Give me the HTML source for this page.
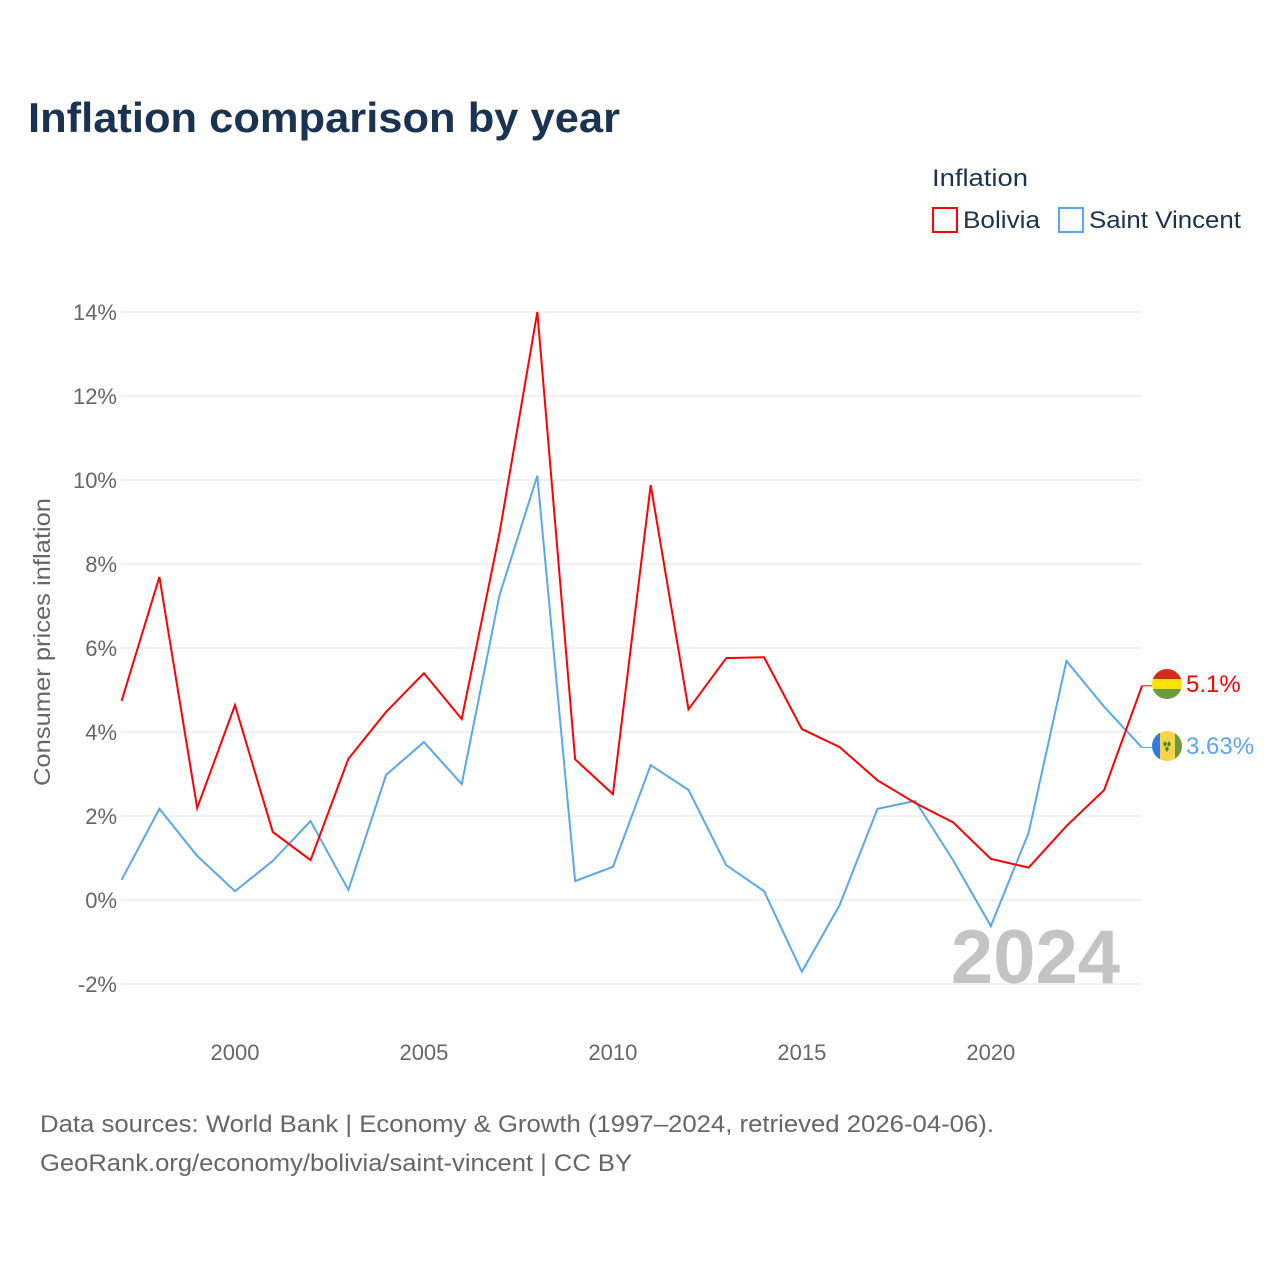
<!DOCTYPE html>
<html><head><meta charset="utf-8"><style>
html,body{margin:0;padding:0;background:#fff;}
svg{display:block;font-family:"Liberation Sans",sans-serif;}
</style></head><body>
<svg width="1280" height="1280" viewBox="0 0 1280 1280">
<text x="28" y="132" font-size="42" font-weight="bold" fill="#1b3350" textLength="592" lengthAdjust="spacingAndGlyphs">Inflation comparison by year</text>
<text x="932" y="186" font-size="24" fill="#1b3350" textLength="96" lengthAdjust="spacingAndGlyphs">Inflation</text>
<g>
<rect x="933" y="208" width="24" height="24" fill="none" stroke="#ff0000" stroke-width="2"/>
<text x="963" y="228" font-size="24" fill="#1b3350" textLength="77" lengthAdjust="spacingAndGlyphs">Bolivia</text></g>
<g>
<rect x="1059" y="208" width="24" height="24" fill="none" stroke="#5aa7ee" stroke-width="2"/>
<text x="1089" y="228" font-size="24" fill="#1b3350" textLength="152" lengthAdjust="spacingAndGlyphs">Saint Vincent</text></g>
<g id="grid"></g><g id="yticks"></g><g id="xticks"></g>
<text x="1120" y="983" font-size="76" font-weight="bold" fill="#c4c4c4" text-anchor="end">2024</text>
<text transform="translate(50,642) rotate(-90)" font-size="23" fill="#666" text-anchor="middle" textLength="288" lengthAdjust="spacingAndGlyphs">Consumer prices inflation</text>
<g id="series"></g>
<g>
<clipPath id="c1"><circle cx="1167" cy="684" r="15"/></clipPath>
<g clip-path="url(#c1)"><rect x="1150" y="669" width="34" height="10" fill="#d52b1e"/><rect x="1150" y="679" width="34" height="10" fill="#f9e300"/><rect x="1150" y="689" width="34" height="11" fill="#6a9a3a"/></g></g>
<g>
<clipPath id="c2"><circle cx="1167" cy="746" r="15"/></clipPath>
<g clip-path="url(#c2)"><rect x="1150" y="730" width="10" height="32" fill="#2f7de1"/><rect x="1160" y="730" width="15" height="32" fill="#fcd44a"/><rect x="1175" y="730" width="10" height="32" fill="#6a9a3a"/>
<path d="M1163 744l2-3 2 3-2 3zM1167 744l2-3 2 3-2 3zM1165 749l2-3 2 3-2 3z" fill="#3a8a2a"/></g></g>
<text x="1186" y="692" font-size="24" fill="#ff0000">5.1%</text>
<text x="1186" y="754" font-size="24" fill="#5aa7ee">3.63%</text>
<text x="40" y="1132" font-size="24" fill="#666" textLength="954" lengthAdjust="spacingAndGlyphs">Data sources: World Bank | Economy &amp; Growth (1997–2024, retrieved 2026-04-06).</text>
<text x="40" y="1171" font-size="24" fill="#666" textLength="592" lengthAdjust="spacingAndGlyphs">GeoRank.org/economy/bolivia/saint-vincent | CC BY</text>
</svg>
<script>
const years=[1997,1998,1999,2000,2001,2002,2003,2004,2005,2006,2007,2008,2009,2010,2011,2012,2013,2014,2015,2016,2017,2018,2019,2020,2021,2022,2023,2024];
const bolivia=[4.74,7.69,2.19,4.64,1.62,0.95,3.36,4.48,5.40,4.31,8.74,14.0,3.35,2.52,9.88,4.54,5.76,5.78,4.07,3.64,2.85,2.31,1.85,0.98,0.77,1.76,2.62,5.1];
const saintVincent=[0.48,2.17,1.05,0.21,0.93,1.88,0.24,2.98,3.76,2.76,7.26,10.1,0.45,0.79,3.21,2.62,0.83,0.21,-1.71,-0.12,2.17,2.36,0.95,-0.62,1.6,5.69,4.6,3.63];
const yTicks=[-2,0,2,4,6,8,10,12,14];
const xTicks=[2000,2005,2010,2015,2020];
const NS="http://www.w3.org/2000/svg";
const X=y=>121.6+(y-1997)*(1142-121.6)/27;
const Y=v=>900-v*42;
function mk(tag,attrs,parent){const e=document.createElementNS(NS,tag);for(const k in attrs)e.setAttribute(k,attrs[k]);document.getElementById(parent).appendChild(e);return e;}
yTicks.forEach(v=>{
 const l=mk('line',{x1:121,x2:1142,y1:Y(v),y2:Y(v),stroke:'#e6e6e6','stroke-width':1},'grid');
 
 
 const t=mk('text',{x:117,y:Y(v)+8,'font-size':22,fill:'#666','text-anchor':'end'},'yticks');
 t.textContent=v+'%';
 
 
});
xTicks.forEach(v=>{
 const t=mk('text',{x:X(v),y:1060,'font-size':22,fill:'#666','text-anchor':'middle'},'xticks');
 t.textContent=v;
 
 
});
function line(vals,color,name){
 const p=mk('polyline',{points:vals.map((v,i)=>X(years[i])+','+Y(v)).join(' '),fill:'none',stroke:color,'stroke-width':2,'stroke-linejoin':'miter'},'series');
 
 
}
line(saintVincent,'#5aa7ee','saint-vincent-line');
line(bolivia,'#ff0000','bolivia-line');
const c1=mk('line',{x1:X(2024),x2:1152,y1:Y(bolivia[27]),y2:Y(bolivia[27]),stroke:'#ff0000','stroke-width':1},'series');


const c2=mk('line',{x1:X(2024),x2:1152,y1:Y(saintVincent[27]),y2:Y(saintVincent[27]),stroke:'#5aa7ee','stroke-width':1},'series');


</script>
</body></html>
